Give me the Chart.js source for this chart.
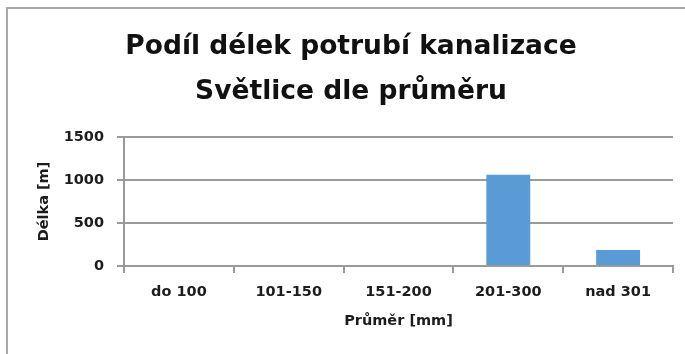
<!DOCTYPE html>
<html>
<head>
<meta charset="utf-8">
<script src="https://cdn.jsdelivr.net/npm/chart.js@4/dist/chart.umd.min.js"></script>
<style>
  html, body { margin: 0; padding: 0; background: #fff; }
  #wrap { width: 685px; height: 354px; }
</style>
</head>
<body>
<div id="wrap"><canvas id="delkyChart" width="685" height="354"></canvas></div>
<script>
// délky potrubí podle průměru
const prumery = ['do 100', '101-150', '151-200', '201-300', 'nad 301'];
const delky = [0, 0, 0, 1060, 185];
const yTicks = [0, 500, 1000, 1500];

const FONT = 'DejaVu Sans';
const TEXT = '#1c1c1c';
const GRID = '#9a9a9a';

// šedý rámeček kolem grafu
const ramecek = {
  id: 'ramecek',
  beforeDraw(chart) {
    const ctx = chart.ctx;
    ctx.save();
    ctx.fillStyle = '#fff';
    ctx.fillRect(0, 0, chart.width, chart.height);
    ctx.strokeStyle = '#a6a6a6';
    ctx.lineWidth = 2;
    ctx.strokeRect(7, 8, chart.width + 20, chart.height + 20);
    ctx.restore();
  }
};

function initChart() {
  const ctx = document.getElementById('delkyChart')?.getContext('2d');
  if (!ctx) {
    console.error('initChart: canvas nenalezen');
    return;
  }

  new Chart(ctx, {
    type: 'bar',
    data: {
      labels: prumery,
      datasets: [
        {
          label: 'Délka [m]',
          data: delky,
          backgroundColor: '#5b9bd5',
          borderWidth: 0,
          categoryPercentage: 1,
          barPercentage: 0.4
        }
      ]
    },
    options: {
      responsive: false,
      animation: false,
      layout: {
        padding: { left: 29, right: 12, top: 0, bottom: 0 }
      },
      plugins: {
        legend: { display: false },
        tooltip: { enabled: false },
        title: {
          display: true,
          text: ['Podíl délek potrubí kanalizace', 'Světlice dle průměru'],
          color: '#111',
          font: { family: FONT, size: 26.5, weight: 'bold', lineHeight: '45px' },
          padding: { top: 25, bottom: 22 }
        }
      },
      scales: {
        x: {
          afterFit(scale) { scale.height = 88; },
          grid: {
            offset: true,
            drawOnChartArea: false,
            drawTicks: true,
            tickLength: 7,
            color: GRID,
            lineWidth: 2
          },
          border: { display: true, color: GRID, width: 2 },
          ticks: {
            color: TEXT,
            padding: 11,
            autoSkip: false,
            maxRotation: 0,
            font: { family: FONT, size: 14.5, weight: 'bold' }
          },
          title: {
            display: true,
            text: 'Průměr [mm]',
            color: TEXT,
            font: { family: FONT, size: 14.5, weight: 'bold' },
            padding: { top: 0, bottom: 24 }
          }
        },
        y: {
          min: 0,
          max: 1500,
          afterFit(scale) { scale.width = 95; },
          afterBuildTicks(scale) {
            scale.ticks = yTicks.map(v => ({ value: v }));
          },
          grid: {
            drawTicks: true,
            tickLength: 7,
            color: GRID,
            lineWidth: 2
          },
          border: { display: true, color: GRID, width: 2 },
          ticks: {
            color: TEXT,
            padding: 13,
            callback: v => String(v),
            font: { family: FONT, size: 14.5, weight: 'bold' }
          },
          title: {
            display: true,
            text: 'Délka [m]',
            color: TEXT,
            font: { family: FONT, size: 14.5, weight: 'bold' },
            padding: { top: 7, bottom: 0 }
          }
        }
      }
    },
    plugins: [ramecek]
  });
}

window.addEventListener('DOMContentLoaded', initChart);
</script>
</body>
</html>
